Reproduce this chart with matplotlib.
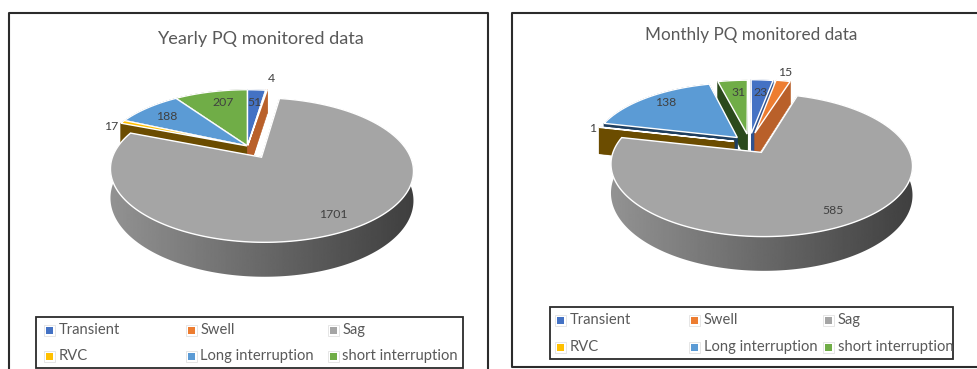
"""Two exploded 3D pies of power quality events, yearly and monthly."""

import matplotlib
matplotlib.use("Agg")
import matplotlib.pyplot as plt
import numpy as np
from matplotlib.patches import Polygon, Rectangle

plt.rcParams["font.family"] = ["Lato", "DejaVu Sans"]

W, H = 978, 369

categories = ["Transient", "Swell", "Sag", "RVC", "Long interruption", "short interruption"]
yearly_values = [51, 4, 1701, 17, 188, 207]
monthly_values = [23, 15, 585, 1, 138, 31]

top_colors = ["#4472C4", "#ED7D31", "#A5A5A5", "#FFC000", "#5B9BD5", "#70AD47"]
wall_colors = ["#2f528f", "#b9602a", "#6e6e6e", "#6b4c00", "#1f3f60", "#2b4a1c"]

# how far each slice is pulled out of the pie, in pie radii
yearly_explode = [0.0, 0.01, 0.19, 0.0, 0.0, 0.0]
monthly_explode = [0.15, 0.16, 0.16, 0.11, 0.12, 0.14]

# paint order, back to front
paint_order = [5, 4, 3, 0, 1, 2]

RX, RY, PERSP, DEPTH = 144.8, 66, 0.173, 27.5
LEGEND_SIZE = 10.65
LABEL_SIZE = 8.8


def project(center, u, v):
    s = 1 + PERSP * v
    return center[0] + RX * u / s, center[1] - RY * v / s


def draw_pie(ax, values, explode, center):
    vals = np.array(values, dtype=float)
    edges = np.concatenate([[0], np.cumsum(vals)]) / vals.sum() * 2 * np.pi

    for i in paint_order:
        a0, a1 = edges[i], edges[i + 1]
        mid = (a0 + a1) / 2
        ou, ov = explode[i] * np.sin(mid), explode[i] * np.cos(mid)
        t = np.linspace(a0, a1, max(4, int((a1 - a0) * 60)))
        us = np.concatenate([[ou], ou + np.sin(t)])
        vs = np.concatenate([[ov], ov + np.cos(t)])
        xs, ys = project(center, us, vs)
        drop = DEPTH / (1 + PERSP * vs)
        top = np.column_stack([xs, ys])
        low = np.column_stack([xs, ys + drop])

        # outer rim; the big slice gets a left-to-right grey ramp
        rim = np.vstack([top[1:], low[1:][::-1]])
        if i == 2:
            ramp = np.linspace(0.58, 0.24, 256).reshape(1, -1)
            im = ax.imshow(ramp, cmap="gray", vmin=0, vmax=1, aspect="auto", zorder=1,
                           extent=(center[0] - 145, center[0] + 172, H, 0))
            im.set_clip_path(Polygon(rim, transform=ax.transData))
        else:
            ax.add_patch(Polygon(rim, facecolor=wall_colors[i], edgecolor=wall_colors[i],
                                 lw=0.4, zorder=1))

        # the two flat cut faces
        for j in (1, len(xs) - 1):
            quad = [top[0], top[j], low[j], low[0]]
            ax.add_patch(Polygon(quad, facecolor=wall_colors[i], edgecolor=wall_colors[i],
                                 lw=0.4, zorder=1))

        ax.add_patch(Polygon(top, facecolor=top_colors[i], edgecolor="white", lw=1.0, zorder=1))


def draw_legend(ax, box, col_x, row_y):
    ax.add_patch(Rectangle((box[0], box[1]), box[2] - box[0], box[3] - box[1],
                           facecolor="white", edgecolor="#2b2b2b", lw=1.3, zorder=3))
    for k, name in enumerate(categories):
        x, y = col_x[k % 3], row_y[k // 3]
        ax.add_patch(Rectangle((x - 1.5, y - 5.5), 11, 11, facecolor="white",
                               edgecolor="#e2e2e2", lw=0.6, zorder=4))
        ax.add_patch(Rectangle((x + 0.5, y - 3.5), 7, 7, facecolor=top_colors[k], lw=0, zorder=5))
        ax.text(x + 13.5, y, name, fontsize=LEGEND_SIZE, color="#595959",
                ha="left", va="center", zorder=5)


fig = plt.figure(figsize=(W / 100, H / 100), dpi=100)
ax = fig.add_axes([0, 0, 1, 1])

# panel frames, both run off the canvas
ax.plot([9, 9, 488, 488], [H + 2, 12.5, 12.5, H + 2], color="#2b2b2b", lw=1.5, zorder=2)
ax.plot([W + 2, 512, 512, W + 2], [12.5, 12.5, 367, 367], color="#2b2b2b", lw=1.5, zorder=2)

ax.text(260, 39, "Yearly PQ monitored data", fontsize=13.05, color="#595959",
        ha="center", va="center")
ax.text(751, 35, "Monthly PQ monitored data", fontsize=12.35, color="#595959",
        ha="center", va="center")

draw_pie(ax, yearly_values, yearly_explode, (247.5, 146))
draw_pie(ax, monthly_values, monthly_explode, (749.5, 143))

yearly_labels = [(254, 103), (271, 78), (333, 215), (111, 127), (167, 116), (223, 103)]
monthly_labels = [(760, 92), (785, 73), (833, 210), (593, 128), (666, 103), (739, 92)]
for vals, spots in ((yearly_values, yearly_labels), (monthly_values, monthly_labels)):
    for v, (x, y) in zip(vals, spots):
        ax.text(x, y, str(v), fontsize=LABEL_SIZE, color="#404040",
                ha="center", va="center", zorder=2)

draw_legend(ax, (36, 317, 463, 368), (45, 187, 329), (330, 356))
draw_legend(ax, (550, 307, 953, 359), (556, 690, 824), (320, 347))

ax.set_xlim(0, W)
ax.set_ylim(H, 0)
ax.axis("off")

fig.savefig("out.png", dpi=100)
